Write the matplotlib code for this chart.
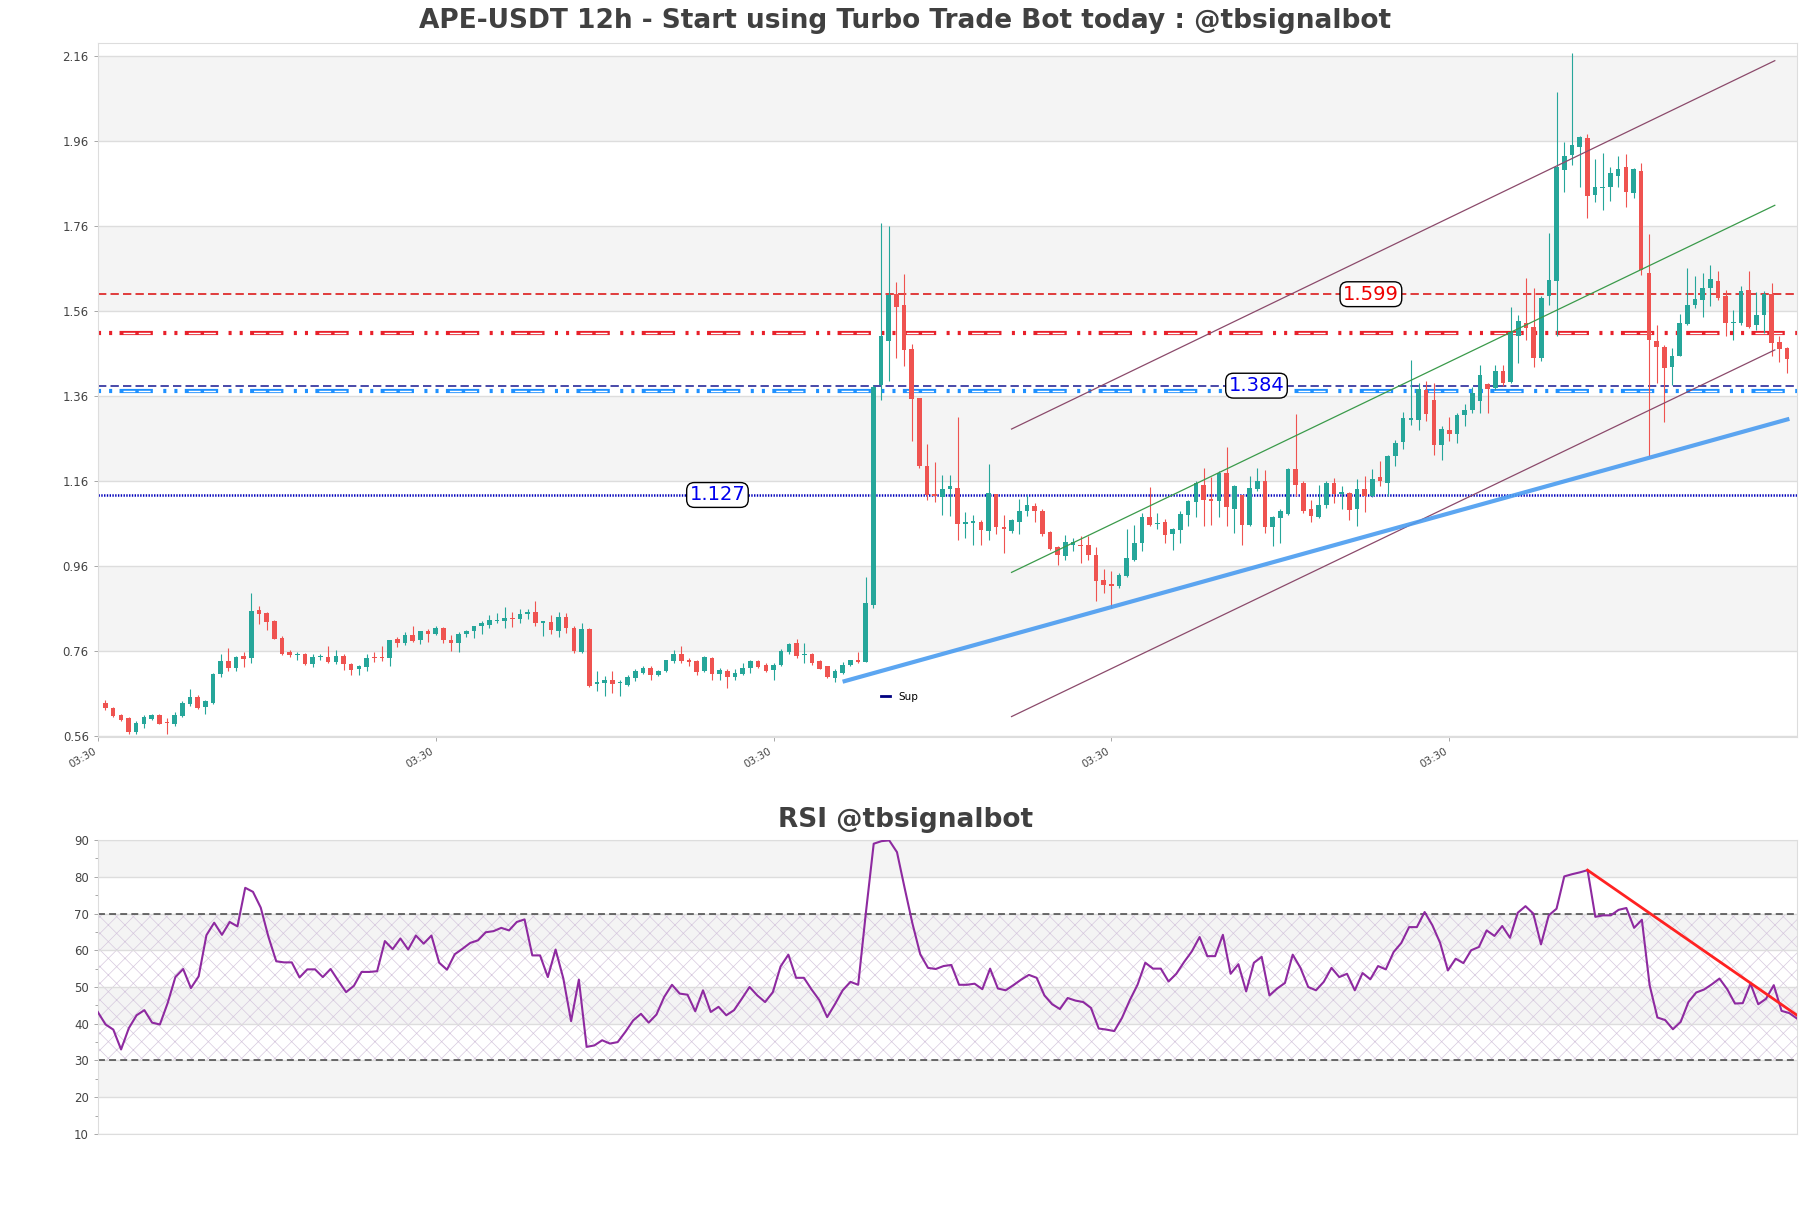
import matplotlib
matplotlib.use('Agg')
import matplotlib.pyplot as plt
from matplotlib.lines import Line2D
import numpy as np

# candle data (12h)
opens = [
    0.638, 0.627, 0.609, 0.602, 0.569, 0.589, 0.601, 0.610, 0.591, 0.588,
    0.608, 0.636, 0.652, 0.629, 0.638, 0.706, 0.736, 0.721, 0.748, 0.743,
    0.856, 0.850, 0.831, 0.791, 0.757, 0.750, 0.754, 0.729, 0.745, 0.746,
    0.735, 0.748, 0.729, 0.719, 0.723, 0.744, 0.746, 0.744, 0.789, 0.779,
    0.797, 0.786, 0.808, 0.800, 0.815, 0.786, 0.779, 0.800, 0.808, 0.818,
    0.822, 0.831, 0.831, 0.837, 0.836, 0.846, 0.851, 0.827, 0.828, 0.808,
    0.840, 0.815, 0.758, 0.813, 0.683, 0.685, 0.691, 0.685, 0.681, 0.696,
    0.709, 0.721, 0.703, 0.713, 0.736, 0.752, 0.738, 0.736, 0.714, 0.744,
    0.707, 0.714, 0.699, 0.705, 0.721, 0.736, 0.728, 0.715, 0.727, 0.758,
    0.779, 0.751, 0.753, 0.736, 0.724, 0.697, 0.709, 0.728, 0.738, 0.735,
    0.869, 1.386, 1.488, 1.600, 1.574, 1.470, 1.355, 1.196, 1.130, 1.122,
    1.142, 1.143, 1.059, 1.060, 1.064, 1.042, 1.130, 1.052, 1.042, 1.063,
    1.089, 1.102, 1.090, 1.039, 1.004, 0.983, 1.010, 1.010, 1.009, 0.987,
    0.926, 0.918, 0.912, 0.936, 0.975, 1.014, 1.075, 1.059, 1.064, 1.035,
    1.044, 1.079, 1.110, 1.150, 1.118, 1.114, 1.179, 1.095, 1.126, 1.056,
    1.140, 1.161, 1.051, 1.072, 1.082, 1.188, 1.155, 1.093, 1.075, 1.104,
    1.155, 1.130, 1.132, 1.093, 1.141, 1.124, 1.169, 1.154, 1.218, 1.251,
    1.304, 1.304, 1.374, 1.350, 1.245, 1.280, 1.270, 1.314, 1.326, 1.347,
    1.388, 1.378, 1.418, 1.392, 1.501, 1.531, 1.522, 1.449, 1.594, 1.629,
    1.891, 1.927, 1.946, 1.966, 1.833, 1.848, 1.852, 1.876, 1.897, 1.837,
    1.889, 1.649, 1.490, 1.476, 1.429, 1.454, 1.529, 1.574, 1.586, 1.613,
    1.631, 1.594, 1.531, 1.531, 1.610, 1.527, 1.549, 1.599, 1.486, 1.472,
]
closes = [
    0.627, 0.608, 0.598, 0.570, 0.591, 0.605, 0.609, 0.589, 0.590, 0.609,
    0.638, 0.652, 0.627, 0.642, 0.707, 0.736, 0.720, 0.747, 0.741, 0.854,
    0.848, 0.829, 0.788, 0.754, 0.751, 0.754, 0.729, 0.747, 0.746, 0.735,
    0.748, 0.730, 0.716, 0.725, 0.743, 0.743, 0.743, 0.787, 0.779, 0.797,
    0.783, 0.808, 0.800, 0.815, 0.786, 0.780, 0.800, 0.808, 0.819, 0.826,
    0.833, 0.834, 0.837, 0.835, 0.848, 0.852, 0.827, 0.828, 0.809, 0.840,
    0.815, 0.760, 0.812, 0.677, 0.688, 0.691, 0.683, 0.687, 0.699, 0.713,
    0.721, 0.703, 0.714, 0.738, 0.752, 0.736, 0.735, 0.710, 0.746, 0.706,
    0.715, 0.699, 0.709, 0.721, 0.736, 0.723, 0.713, 0.728, 0.760, 0.777,
    0.748, 0.752, 0.732, 0.719, 0.699, 0.713, 0.728, 0.738, 0.735, 0.873,
    1.382, 1.500, 1.598, 1.568, 1.469, 1.353, 1.194, 1.128, 1.124, 1.140,
    1.147, 1.059, 1.063, 1.065, 1.044, 1.132, 1.051, 1.046, 1.067, 1.089,
    1.103, 1.089, 1.036, 1.001, 0.985, 1.017, 1.016, 1.007, 0.985, 0.924,
    0.915, 0.912, 0.940, 0.979, 1.014, 1.075, 1.057, 1.061, 1.032, 1.047,
    1.083, 1.112, 1.154, 1.115, 1.114, 1.179, 1.099, 1.149, 1.056, 1.143,
    1.161, 1.051, 1.075, 1.090, 1.188, 1.151, 1.089, 1.077, 1.103, 1.155,
    1.130, 1.133, 1.091, 1.142, 1.124, 1.165, 1.159, 1.219, 1.249, 1.308,
    1.308, 1.376, 1.318, 1.245, 1.283, 1.270, 1.316, 1.326, 1.367, 1.410,
    1.375, 1.418, 1.390, 1.510, 1.537, 1.519, 1.449, 1.590, 1.633, 1.898,
    1.924, 1.950, 1.968, 1.831, 1.851, 1.852, 1.884, 1.893, 1.840, 1.894,
    1.656, 1.492, 1.475, 1.425, 1.453, 1.531, 1.574, 1.588, 1.613, 1.634,
    1.590, 1.531, 1.534, 1.607, 1.523, 1.549, 1.599, 1.484, 1.470, 1.447,
]
highs = [
    0.644, 0.628, 0.612, 0.604, 0.595, 0.609, 0.613, 0.613, 0.602, 0.616,
    0.643, 0.671, 0.656, 0.645, 0.709, 0.753, 0.767, 0.749, 0.758, 0.896,
    0.865, 0.851, 0.833, 0.796, 0.763, 0.757, 0.755, 0.754, 0.754, 0.772,
    0.762, 0.754, 0.732, 0.727, 0.754, 0.758, 0.772, 0.787, 0.793, 0.804,
    0.818, 0.808, 0.812, 0.820, 0.817, 0.798, 0.806, 0.810, 0.820, 0.830,
    0.844, 0.849, 0.863, 0.852, 0.859, 0.859, 0.877, 0.828, 0.844, 0.851,
    0.850, 0.818, 0.826, 0.815, 0.713, 0.701, 0.713, 0.693, 0.703, 0.717,
    0.726, 0.725, 0.716, 0.740, 0.762, 0.771, 0.744, 0.738, 0.748, 0.745,
    0.721, 0.717, 0.717, 0.732, 0.740, 0.738, 0.731, 0.732, 0.764, 0.779,
    0.789, 0.778, 0.755, 0.738, 0.725, 0.717, 0.734, 0.740, 0.758, 0.933,
    1.386, 1.766, 1.760, 1.627, 1.647, 1.482, 1.355, 1.247, 1.205, 1.173,
    1.174, 1.310, 1.087, 1.081, 1.069, 1.200, 1.130, 1.080, 1.071, 1.118,
    1.128, 1.107, 1.093, 1.042, 1.006, 1.034, 1.026, 1.030, 1.031, 1.005,
    0.952, 0.948, 0.944, 1.047, 1.057, 1.085, 1.145, 1.085, 1.071, 1.050,
    1.089, 1.116, 1.159, 1.190, 1.169, 1.183, 1.240, 1.151, 1.128, 1.171,
    1.190, 1.185, 1.077, 1.093, 1.190, 1.317, 1.159, 1.115, 1.151, 1.159,
    1.167, 1.147, 1.133, 1.165, 1.171, 1.188, 1.208, 1.222, 1.257, 1.321,
    1.445, 1.390, 1.394, 1.390, 1.290, 1.310, 1.320, 1.340, 1.382, 1.433,
    1.390, 1.433, 1.433, 1.570, 1.551, 1.637, 1.613, 1.594, 1.743, 2.075,
    1.956, 2.167, 1.971, 1.976, 1.916, 1.932, 1.899, 1.923, 1.929, 1.895,
    1.907, 1.741, 1.527, 1.480, 1.472, 1.553, 1.660, 1.641, 1.649, 1.668,
    1.653, 1.610, 1.562, 1.619, 1.653, 1.604, 1.607, 1.625, 1.501, 1.474,
]
lows = [
    0.622, 0.605, 0.596, 0.564, 0.565, 0.580, 0.599, 0.588, 0.566, 0.583,
    0.605, 0.631, 0.625, 0.613, 0.635, 0.700, 0.714, 0.714, 0.723, 0.733,
    0.824, 0.809, 0.788, 0.750, 0.745, 0.738, 0.728, 0.722, 0.739, 0.732,
    0.729, 0.716, 0.704, 0.704, 0.713, 0.734, 0.736, 0.725, 0.770, 0.775,
    0.782, 0.776, 0.782, 0.798, 0.780, 0.761, 0.758, 0.793, 0.790, 0.801,
    0.814, 0.826, 0.814, 0.816, 0.825, 0.835, 0.819, 0.796, 0.801, 0.793,
    0.802, 0.756, 0.756, 0.676, 0.666, 0.654, 0.662, 0.654, 0.677, 0.689,
    0.705, 0.693, 0.701, 0.711, 0.731, 0.732, 0.726, 0.703, 0.710, 0.693,
    0.693, 0.673, 0.691, 0.703, 0.709, 0.721, 0.710, 0.693, 0.724, 0.754,
    0.744, 0.731, 0.728, 0.717, 0.696, 0.687, 0.705, 0.724, 0.733, 0.734,
    0.861, 1.351, 1.394, 1.449, 1.430, 1.253, 1.190, 1.116, 1.110, 1.081,
    1.077, 1.022, 1.026, 1.010, 1.010, 1.022, 1.035, 0.990, 1.038, 1.036,
    1.077, 1.063, 1.031, 0.997, 0.963, 0.975, 0.995, 0.967, 0.975, 0.877,
    0.897, 0.862, 0.908, 0.934, 0.971, 0.995, 1.055, 1.046, 1.014, 0.997,
    1.014, 1.053, 1.075, 1.055, 1.057, 1.075, 1.053, 1.038, 1.010, 1.053,
    1.136, 1.038, 1.006, 1.014, 1.081, 1.124, 1.085, 1.063, 1.073, 1.096,
    1.107, 1.093, 1.069, 1.053, 1.086, 1.122, 1.147, 1.124, 1.194, 1.235,
    1.292, 1.280, 1.300, 1.220, 1.210, 1.253, 1.250, 1.290, 1.320, 1.320,
    1.320, 1.374, 1.384, 1.390, 1.437, 1.492, 1.429, 1.443, 1.574, 1.501,
    1.840, 1.903, 1.852, 1.778, 1.815, 1.797, 1.817, 1.852, 1.804, 1.825,
    1.645, 1.218, 1.390, 1.298, 1.386, 1.453, 1.527, 1.566, 1.545, 1.572,
    1.586, 1.500, 1.492, 1.527, 1.519, 1.515, 1.508, 1.453, 1.439, 1.414,
]

rsi = [
    43.2, 39.8, 38.4, 33.0, 38.8, 42.3, 43.7, 40.3, 39.8, 45.6,
    52.7, 54.9, 49.7, 52.9, 64.1, 67.5, 64.2, 67.7, 66.5, 77.0,
    75.9, 71.6, 63.6, 57.0, 56.7, 56.7, 52.6, 54.8, 54.8, 52.7,
    54.9, 51.7, 48.6, 50.3, 54.1, 54.1, 54.3, 62.5, 60.3, 63.2,
    60.2, 64.0, 61.8, 64.0, 56.6, 54.7, 58.9, 60.4, 62.0, 62.7,
    64.9, 65.2, 66.1, 65.4, 67.7, 68.4, 58.6, 58.6, 52.7, 60.2,
    52.3, 40.7, 52.0, 33.7, 34.1, 35.5, 34.6, 35.0, 37.8, 40.9,
    42.7, 40.3, 42.5, 47.3, 50.6, 48.2, 47.9, 43.4, 49.1, 43.2,
    44.6, 42.3, 43.7, 46.8, 50.0, 47.7, 45.9, 48.6, 55.6, 58.8,
    52.5, 52.5, 49.3, 46.4, 41.8, 45.3, 49.1, 51.4, 50.6, 70.4,
    89.0, 89.7, 89.9, 86.7, 76.8, 67.2, 58.9, 55.2, 54.9, 55.7,
    56.0, 50.6, 50.6, 50.9, 49.4, 55.0, 49.6, 49.1, 50.5, 52.0,
    53.3, 52.5, 47.7, 45.3, 44.0, 47.0, 46.3, 45.9, 44.3, 38.7,
    38.4, 38.0, 41.6, 46.4, 50.6, 56.6, 55.0, 55.0, 51.5, 53.6,
    56.8, 59.7, 63.6, 58.4, 58.4, 64.2, 53.6, 56.2, 48.8, 56.6,
    58.2, 47.7, 49.6, 51.1, 58.8, 55.2, 50.0, 49.1, 51.4, 55.2,
    52.7, 53.6, 49.1, 53.8, 52.1, 55.7, 54.8, 59.5, 62.0, 66.3,
    66.3, 70.4, 66.8, 62.0, 54.5, 57.7, 56.5, 60.0, 60.9, 65.4,
    63.9, 66.6, 63.4, 70.2, 72.0, 70.0, 61.6, 69.5, 71.3, 80.1,
    80.7, 81.2, 81.8, 69.1, 69.5, 69.5, 71.0, 71.5, 66.1, 68.3,
    50.5, 41.7, 41.0, 38.5, 40.5, 45.9, 48.5, 49.3, 50.7, 52.3,
    49.4, 45.5, 45.6, 50.9, 45.3, 46.8, 50.5, 43.5, 42.9, 41.4,
]

# support / resistance levels
level_res = 1.599
level_mid = 1.384
level_sup = 1.127
level_red_band = 1.507
level_blue_band = 1.371

# trend lines (candle index, price)
sup_x = [96.0, 219.3]
sup_y = [0.688, 1.306]
chan_x = [118.0, 217.4]
chan_upper = [1.282, 2.148]
chan_mid = [0.945, 1.808]
chan_lower = [0.606, 1.468]
rsi_trend_x = [192, 219]
rsi_trend_y = [81.8, 42.3]

tick_pos = [-1, 43, 87, 131, 175]
tick_labels = ['03:30'] * 5

GREEN = '#26a69a'
RED = '#ef5350'
BAND = '#f4f4f4'
GRID = '#dddddd'


def style_axes(ax):
    for s in ax.spines.values():
        s.set_color(GRID)
    ax.tick_params(colors='#999999', labelcolor='#444444', length=3, width=0.6)


def draw_candles(ax):
    x = np.arange(len(opens))
    o = np.array(opens)
    c = np.array(closes)
    colors = [GREEN if cc >= oo else RED for oo, cc in zip(o, c)]
    ax.vlines(x, lows, highs, colors=colors, linewidth=0.8, zorder=3)
    body_h = np.maximum(np.abs(c - o), 0.003)
    ax.bar(x, body_h, bottom=np.minimum(o, c), width=0.6, color=colors, zorder=4)


def level_label(ax, x, y, text, color):
    ax.text(x, y, text, color=color, fontsize=14, ha='center', va='center', zorder=6,
            bbox=dict(boxstyle='round,pad=0.15,rounding_size=0.4', fc='white', ec='black', lw=1))


def pattern_line(ax, y, color):
    # thick dash-dot band with hollow long dashes
    ax.axhline(y, color=color, lw=3.0, ls=(0, (2.2, 5.8, 2.2, 5.3, 24, 7.5)), zorder=2)
    ax.axhline(y, color='white', lw=1.0, ls=(29, (8.5, 2.5, 8.5, 27.5)), zorder=2)


def plot_price(ax):
    ax.set_xlim(-1, 220.3)
    ax.set_ylim(0.558, 2.189)
    for lo in [0.76, 1.16, 1.56, 1.96]:
        ax.axhspan(lo, lo + 0.2, color=BAND, zorder=0, lw=0)
    yt = np.round(np.arange(0.56, 2.17, 0.2), 2)
    ax.set_yticks(yt)
    ax.set_yticklabels(['%.2f' % v for v in yt], fontsize=8.5)
    for v in yt:
        ax.axhline(v, color=GRID, lw=1, zorder=1)

    ax.set_xticks(tick_pos)
    ax.set_xticklabels(tick_labels, rotation=30, ha='right', fontsize=7.5)

    # horizontal levels
    ax.axhline(level_res, color='#dd1c1c', lw=1.2, ls=(0, (6, 3)), zorder=2)
    ax.axhline(level_mid, color='#2a2a9a', lw=1.2, ls=(0, (6, 3)), zorder=2)
    ax.axhline(level_sup, color='#0000bb', lw=1.8, ls=(0, (1, 1)), zorder=2)
    pattern_line(ax, level_red_band, '#e8202a')
    pattern_line(ax, level_blue_band, '#1e90ff')

    # trend lines
    ax.plot(chan_x, chan_upper, color='#8b4a6b', lw=0.9, zorder=5)
    ax.plot(chan_x, chan_lower, color='#8b4a6b', lw=0.9, zorder=5)
    ax.plot(chan_x, chan_mid, color='#3a9a4a', lw=0.9, zorder=5)
    ax.plot(sup_x, sup_y, color='#4a9cf0', lw=3.0, alpha=0.9, zorder=5, solid_capstyle='butt')

    draw_candles(ax)

    level_label(ax, 164.8, level_res, '%.3f' % level_res, '#ee0000')
    level_label(ax, 149.9, level_mid, '%.3f' % level_mid, '#0000ee')
    level_label(ax, 79.7, level_sup, '%.3f' % level_sup, '#0000ee')

    ax.legend(handles=[Line2D([], [], color='#000080', lw=2)], labels=['Sup'],
              loc='center', bbox_to_anchor=(0.472, 0.058), frameon=False,
              fontsize=7.5, handlelength=0.9)
    style_axes(ax)


def plot_rsi(ax):
    x = np.arange(len(rsi))
    ax.set_xlim(0, len(rsi) - 1)
    ax.set_ylim(10, 90)
    for lo in [20, 40, 60, 80]:
        ax.axhspan(lo, lo + 10, color=BAND, zorder=0, lw=0)
    ax.fill_between([0, len(rsi) - 1], 30, 70, facecolor='none', edgecolor='#d6c8de',
                    hatch='xx', linewidth=0, zorder=1)
    for v in range(10, 91, 10):
        ax.axhline(v, color=GRID, lw=1, zorder=1)
    ax.axhline(70, color='#444444', lw=1.1, ls=(0, (5, 3)), zorder=2)
    ax.axhline(30, color='#444444', lw=1.1, ls=(0, (5, 3)), zorder=2)
    ax.plot(x, rsi, color='#8e2aa0', lw=1.5, zorder=3)
    ax.plot(rsi_trend_x, rsi_trend_y, color='#ff2222', lw=2, zorder=4)
    ax.set_yticks(range(10, 91, 10))
    ax.set_yticks(range(15, 90, 10), minor=True)
    ax.tick_params(axis='y', labelsize=8.5)
    ax.tick_params(axis='y', which='minor', length=2, color='#999999')
    ax.set_xticks([])
    style_axes(ax)


if __name__ == '__main__':
    plt.rcParams['hatch.linewidth'] = 0.5
    plt.rcParams['lines.scale_dashes'] = False
    fig = plt.figure(figsize=(18.11, 12.08), dpi=100)
    ax1 = fig.add_axes([0.054, 0.3899, 0.9383, 0.5743])
    ax2 = fig.add_axes([0.054, 0.0613, 0.9383, 0.2433])

    plot_price(ax1)
    plot_rsi(ax2)

    fig.text(0.5, 0.983, 'APE-USDT 12h - Start using Turbo Trade Bot today : @tbsignalbot',
             ha='center', va='center', fontsize=19, fontweight='bold', color='#404040')
    fig.text(0.5, 0.321, 'RSI @tbsignalbot', ha='center', va='center',
             fontsize=19, fontweight='bold', color='#404040')

    fig.savefig('out.png', dpi=100, facecolor='white')
